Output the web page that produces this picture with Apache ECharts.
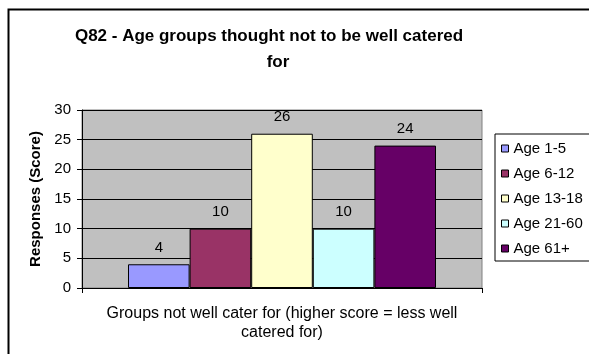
<!DOCTYPE html>
<html>
<head>
<meta charset="utf-8">
<script src="https://cdn.jsdelivr.net/npm/echarts@6/dist/echarts.min.js"></script>
<style>
  html, body { margin: 0; padding: 0; background: #fff; }
  #chart { width: 589px; height: 354px; }
</style>
</head>
<body>
<div id="chart"></div>
<script>
// Survey data: one category, one series per age group
const categories = ['Groups not well cater for (higher score = less well catered for)'];
const seriesNames = ['Age 1-5', 'Age 6-12', 'Age 13-18', 'Age 21-60', 'Age 61+'];
const seriesValues = [4, 10, 26, 10, 24];
const seriesColors = ['#9999FF', '#993366', '#FFFFCC', '#CCFFFF', '#660066'];
const yTicks = { min: 0, max: 30, interval: 5 };
const titleLines = ['Q82 - Age groups thought not to be well catered', 'for'];

const FONT = 'Liberation Sans, Arial, sans-serif';

const chart = echarts.init(document.getElementById('chart'), null, { renderer: 'canvas' });

const series = seriesNames.map((name, i) => ({
  name: name,
  type: 'bar',
  data: [seriesValues[i]],
  barGap: '0%',
  barCategoryGap: '23%',
  itemStyle: { color: seriesColors[i], borderColor: '#000', borderWidth: 1 },
  label: {
    show: true,
    position: 'top',
    distance: 9,
    color: '#000',
    fontFamily: FONT,
    fontSize: 15
  }
}));

const titleStyle = {
  fontFamily: FONT,
  fontSize: 17,
  fontWeight: 'bold',
  color: '#000'
};

chart.setOption({
  animation: false,
  backgroundColor: '#fff',
  title: [
    { text: titleLines[0], left: 269, top: 28, textAlign: 'center', padding: 0, textStyle: titleStyle },
    { text: titleLines[1], left: 278, top: 54, textAlign: 'center', padding: 0, textStyle: titleStyle }
  ],
  legend: {
    orient: 'vertical',
    left: 495,
    top: 134,
    padding: [6, 40, 4, 6],
    itemWidth: 7,
    itemHeight: 7,
    itemGap: 8,
    icon: 'rect',
    borderColor: '#000',
    borderWidth: 1,
    textStyle: {
      fontFamily: FONT,
      fontSize: 15,
      color: '#000',
      lineHeight: 17
    },
    itemStyle: { borderColor: '#000', borderWidth: 1 },
    data: seriesNames
  },
  grid: {
    left: 82,
    right: 107,
    top: 110,
    bottom: 66,
    show: true,
    backgroundColor: '#C0C0C0',
    borderColor: '#808080',
    borderWidth: 1
  },
  xAxis: {
    type: 'category',
    data: categories,
    axisLine: { lineStyle: { color: '#000', width: 1 } },
    axisTick: { show: true, length: 5, lineStyle: { color: '#000' } },
    axisLabel: {
      margin: 16,
      color: '#000',
      fontFamily: FONT,
      fontSize: 16,
      lineHeight: 19,
      align: 'center',
      formatter: v => v.replace('less well ', 'less well\n')
    }
  },
  yAxis: {
    type: 'value',
    min: yTicks.min,
    max: yTicks.max,
    interval: yTicks.interval,
    name: 'Responses (Score)',
    nameLocation: 'middle',
    nameGap: 37,
    nameTextStyle: {
      fontFamily: FONT,
      fontSize: 15,
      fontWeight: 'bold',
      color: '#000'
    },
    axisLine: { show: true, lineStyle: { color: '#000', width: 1 } },
    axisTick: { show: true, length: 5, lineStyle: { color: '#000' } },
    axisLabel: {
      margin: 11,
      color: '#000',
      fontFamily: FONT,
      fontSize: 15
    },
    splitLine: { show: true, lineStyle: { color: '#000', width: 1 } }
  },
  graphic: [{
    type: 'rect',
    shape: { x: 8.5, y: 9.5, width: 700, height: 500 },
    style: { fill: 'none', stroke: '#000', lineWidth: 2 },
    silent: true,
    z: 100
  }],
  series: series
});
</script>
</body>
</html>
